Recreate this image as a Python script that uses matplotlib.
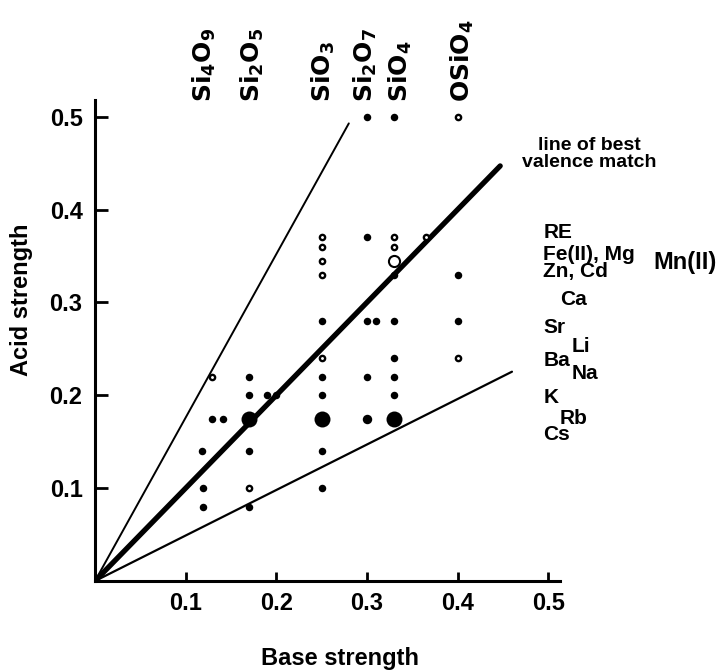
import matplotlib
matplotlib.use('Agg')
import matplotlib.pyplot as plt
import numpy as np

plt.rcParams['font.family'] = ['Liberation Sans', 'DejaVu Sans']
plt.rcParams['font.weight'] = 'bold'

# ---- data ----
filled_x = [0.119, 0.119, 0.118, 0.129, 0.141,
            0.17, 0.17, 0.17, 0.17,
            0.19, 0.20,
            0.25, 0.25, 0.25, 0.25, 0.25,
            0.30, 0.30, 0.30, 0.30, 0.31,
            0.33, 0.33, 0.33, 0.33, 0.33, 0.33,
            0.40, 0.40]
filled_y = [0.10, 0.08, 0.14, 0.175, 0.175,
            0.22, 0.20, 0.14, 0.08,
            0.20, 0.20,
            0.22, 0.20, 0.14, 0.10, 0.28,
            0.22, 0.37, 0.50, 0.28, 0.28,
            0.24, 0.22, 0.20, 0.33, 0.28, 0.50,
            0.33, 0.28]
ring_x = [0.129, 0.17, 0.25, 0.25, 0.25, 0.25, 0.25, 0.33, 0.33, 0.365, 0.40, 0.40]
ring_y = [0.22, 0.10, 0.24, 0.37, 0.36, 0.345, 0.33, 0.37, 0.36, 0.37, 0.24, 0.50]
big_x = [0.17, 0.25, 0.33]
big_y = [0.175, 0.175, 0.175]
medium_x = [0.30]
medium_y = [0.175]
open_big_x = [0.33]
open_big_y = [0.345]

line_slopes = [1.76, 1.0, 0.49]
line_xmax = [0.28, 0.447, 0.46]
line_widths = [1.4, 3.8, 1.6]

top_labels = [r'$\mathregular{Si_4O_9}$', r'$\mathregular{Si_2O_5}$', r'$\mathregular{SiO_3}$',
              r'$\mathregular{Si_2O_7}$', r'$\mathregular{SiO_4}$', r'$\mathregular{OSiO_4}$']
top_label_x = [0.121, 0.174, 0.252, 0.298, 0.337, 0.405]

cation_labels = ['RE', 'Fe(II), Mg', 'Mn(II)', 'Zn, Cd', 'Ca', 'Sr', 'Li', 'Ba', 'Na', 'K', 'Rb', 'Cs']
cation_x = [0.4945, 0.4945, 0.616, 0.4945, 0.513, 0.4945, 0.526, 0.4945, 0.526, 0.4945, 0.513, 0.4945]
cation_y = [0.375, 0.352, 0.343, 0.333, 0.303, 0.273, 0.253, 0.238, 0.224, 0.198, 0.175, 0.158]

ticks = [0.1, 0.2, 0.3, 0.4, 0.5]
tick_labels = ['0.1', '0.2', '0.3', '0.4', '0.5']

# ---- figure ----
fig = plt.figure(figsize=(7.27, 6.72), dpi=100)
ax = fig.add_axes([0.1307, 0.1354, 0.6396, 0.7158])
ax.set_xlim(0, 0.513)
ax.set_ylim(0, 0.518)

for s, xm, lw in zip(line_slopes, line_xmax, line_widths):
    xs = np.array([0.0, xm])
    ax.plot(xs, s * xs, color='black', lw=lw, solid_capstyle='round', zorder=2)

ax.plot(filled_x, filled_y, 'o', color='black', ms=5.4, mew=0, zorder=3)
ax.plot(ring_x, ring_y, 'o', mfc='white', mec='black', ms=3.8, mew=1.7, zorder=3)
ax.plot(big_x, big_y, 'o', color='black', ms=11.5, mew=0, zorder=3)
ax.plot(medium_x, medium_y, 'o', color='black', ms=6.8, mew=0, zorder=3)
ax.plot(open_big_x, open_big_y, 'o', mfc='white', mec='black', ms=8, mew=1.5, zorder=4)

for spn in ['top', 'right']:
    ax.spines[spn].set_visible(False)
for spn in ['left', 'bottom']:
    ax.spines[spn].set_linewidth(2.2)

ax.set_xticks(ticks)
ax.set_xticklabels(tick_labels)
ax.set_yticks(ticks)
ax.set_yticklabels(tick_labels)
ax.tick_params(axis='x', direction='in', length=6.5, width=2, labelsize=17, pad=8)
ax.tick_params(axis='y', direction='in', length=9.5, width=2, labelsize=17, pad=9)

for lab, x in zip(top_labels, top_label_x):
    ax.annotate(lab, xy=(x, 1.0), xycoords=('data', 'axes fraction'),
                xytext=(0, -1.5), textcoords='offset points',
                rotation=90, ha='center', va='bottom', fontsize=18,
                family='DejaVu Sans', fontweight='bold', annotation_clip=False)

for lab, x, y in zip(cation_labels, cation_x, cation_y):
    fs = 17 if lab == 'Mn(II)' else 15
    ax.text(x, y, lab, ha='left', va='center', fontsize=fs, fontweight='bold',
            clip_on=False)

ax.text(0.545, 0.46, 'line of best\nvalence match', ha='center', va='center',
        fontsize=14, fontweight='bold', linespacing=1.05, clip_on=False)

fig.text(340 / 727, 1 - 658 / 672, 'Base strength', ha='center', va='center',
         fontsize=17, fontweight='bold')
fig.text(22 / 727, 1 - 300 / 672, 'Acid strength', ha='center', va='center',
         rotation=90, fontsize=17, fontweight='bold')

fig.savefig('out.png', dpi=100)
